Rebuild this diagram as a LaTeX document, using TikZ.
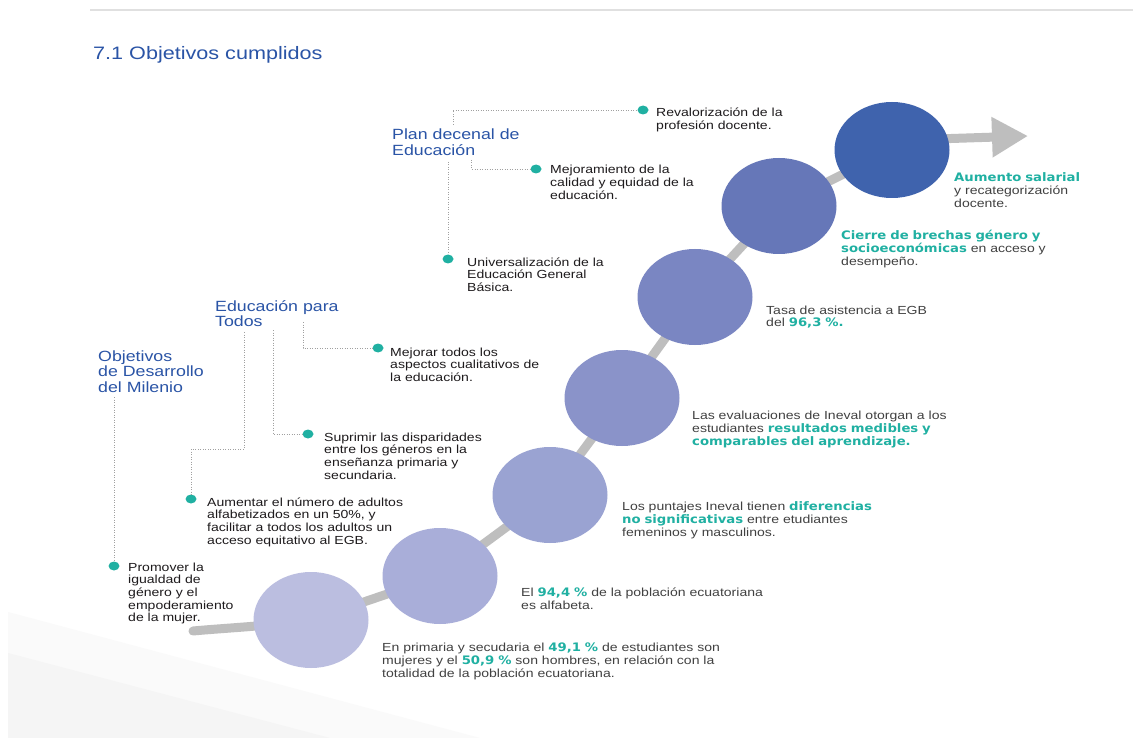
\documentclass[tikz,border=0pt]{standalone}
\usepackage{fontspec}
\setmainfont{Liberation Sans}[FakeStretch=1.2]
\newfontfamily\hlfont{DejaVu Sans}[FakeStretch=1.13]
\usetikzlibrary{shapes.geometric,arrows.meta,backgrounds}
\definecolor{teal1}{RGB}{32,176,162}
\definecolor{blue1}{RGB}{42,84,166}
\definecolor{txtdark}{RGB}{30,27,29}
\definecolor{txtgrey}{RGB}{65,65,65}
\definecolor{pathgrey}{RGB}{190,190,190}
\definecolor{dotgrey}{RGB}{160,160,160}
\definecolor{cA}{RGB}{187,190,224}
\definecolor{cB}{RGB}{169,174,217}
\definecolor{cC}{RGB}{154,163,210}
\definecolor{cD}{RGB}{138,147,201}
\definecolor{cE}{RGB}{122,134,194}
\definecolor{cF}{RGB}{102,119,184}
\definecolor{cG}{RGB}{63,99,173}
\newcommand{\hlt}[1]{{\hlfont\bfseries\color{teal1}#1}}
\begin{document}
\begin{tikzpicture}[x=1pt,y=-1pt,
 stepcirc/.style={ellipse, minimum width=115pt, minimum height=96pt, inner sep=0},
 bullet/.style={ellipse, fill=teal1, minimum width=11pt, minimum height=9pt, inner sep=0},
 heading/.style={anchor=base west, inner sep=0, text width=200pt, align=left, text=blue1, font=\fontsize{14.8}{15.5}\selectfont},
 ltxt/.style={anchor=base west, inner sep=0, text width=300pt, align=left, text=txtdark, font=\fontsize{11.7}{12.7}\selectfont},
 rtxt/.style={anchor=base west, inner sep=0, text width=420pt, align=left, text=txtgrey, font=\fontsize{11.7}{13}\selectfont},
 dotline/.style={draw=dotgrey, line width=0.8pt, dash pattern=on 1pt off 1.5pt},
 track/.style={draw=pathgrey, line width=9pt, line cap=round, line join=round}]
\useasboundingbox (0,0) rectangle (1133,738);
\draw[black!12, line width=2pt] (90,10) -- (1133,10);

\node[anchor=base west, inner sep=0, text=blue1, font=\fontsize{18}{20}\selectfont] (title) at (93,60) {7.1 Objetivos cumplidos};

% steps
\node[stepcirc, fill=cA] (c1) at (311,620) {};
\node[stepcirc, fill=cB] (c2) at (440,576) {};
\node[stepcirc, fill=cC] (c3) at (550,495) {};
\node[stepcirc, fill=cD] (c4) at (622,398) {};
\node[stepcirc, fill=cE] (c5) at (695,297) {};
\node[stepcirc, fill=cF] (c6) at (779,206) {};
\node[stepcirc, fill=cG] (c7) at (892,150) {};
\coordinate (tail) at (193,631);
\coordinate (exit) at (905,140);
\coordinate (tip) at (1028,136);
\begin{scope}[on background layer]
\fill[white] (0,0) rectangle (1133,738);
\fill[black!2] (8,612) -- (480,738) -- (8,738) -- cycle;
\fill[black!4] (8,653) -- (330,738) -- (8,738) -- cycle;
\draw[track] (tail) .. controls (225,628) and (270,626) .. (c1.center) -- (c2.center) -- (c3.center) -- (c4.center) -- (c5.center) -- (c6.center) -- (c7.center);
\draw[draw=pathgrey, line width=9pt, -{Triangle[length=36pt,width=38pt]}] (exit) -- (tip);
\end{scope}

% headings
\node[heading] (h1) at (98,361) {Objetivos\\de Desarrollo\\del Milenio};
\node[heading] (h2) at (215,311) {Educación para\\Todos};
\node[heading] (h3) at (392,140) {Plan decenal de\\Educación};

% bullets
\node[bullet] (dA) at (114,566) {};
\node[bullet] (dB) at (191,499) {};
\node[bullet] (dC) at (308,434) {};
\node[bullet] (dD) at (378,348) {};
\node[bullet] (dE) at (448,259) {};
\node[bullet] (dF) at (536,169) {};
\node[bullet] (dG) at (643,110) {};

% dotted connectors
\coordinate (a1) at (114,397);
\draw[dotline] (a1) -- (dA);
\coordinate (b1) at (244,332);
\coordinate (b2) at (191,449);
\draw[dotline] (b1) |- (b2) -- (dB);
\coordinate (b3) at (273,330);
\draw[dotline] (b3) |- (dC);
\coordinate (b4) at (303,322);
\draw[dotline] (b4) |- (dD);
\coordinate (p1) at (448,162);
\draw[dotline] (p1) -- (dE);
\coordinate (p2) at (471,160);
\draw[dotline] (p2) |- (dF);
\coordinate (p3) at (453,125);
\draw[dotline] (p3) |- (dG);

% left texts
\node[ltxt] (tA) at (128,571) {Promover la\\igualdad de\\género y el\\empoderamiento\\de la mujer.};
\node[ltxt] (tB) at (207,506) {Aumentar el número de adultos\\alfabetizados en un 50\%, y\\facilitar a todos los adultos un\\acceso equitativo al EGB.};
\node[ltxt] (tC) at (324,441) {Suprimir las disparidades\\entre los géneros en la\\enseñanza primaria y\\secundaria.};
\node[ltxt] (tD) at (390,356) {Mejorar todos los\\aspectos cualitativos de\\la educación.};
\node[ltxt] (tE) at (467,266) {Universalización de la\\Educación General\\Básica.};
\node[ltxt] (tF) at (550,174) {Mejoramiento de la\\calidad y equidad de la\\educación.};
\node[ltxt] (tG) at (656,117) {Revalorización de la\\profesión docente.};

% right texts
\node[rtxt] (r1) at (382,651) {En primaria y secudaria el \hlt{49,1 \%} de estudiantes son\\mujeres y el \hlt{50,9 \%} son hombres, en relación con la\\totalidad de la población ecuatoriana.};
\node[rtxt] (r2) at (521,596) {El \hlt{94,4 \%} de la población ecuatoriana\\es alfabeta.};
\node[rtxt] (r3) at (622,510) {Los puntajes Ineval tienen \hlt{diferencias}\\\hlt{no significativas} entre etudiantes\\femeninos y masculinos.};
\node[rtxt] (r4) at (692,419) {Las evaluaciones de Ineval otorgan a los\\estudiantes \hlt{resultados medibles y}\\\hlt{comparables del aprendizaje.}};
\node[rtxt] (r5) at (766,314) {Tasa de asistencia a EGB\\del \hlt{96,3 \%.}};
\node[rtxt] (r6) at (841,240) {\hlt{Cierre de brechas género y}\\\hlt{socioeconómicas} en acceso y\\desempeño.};
\node[rtxt] (r7) at (954,182) {\hlt{Aumento salarial}\\y recategorización\\docente.};
\end{tikzpicture}
\end{document}
